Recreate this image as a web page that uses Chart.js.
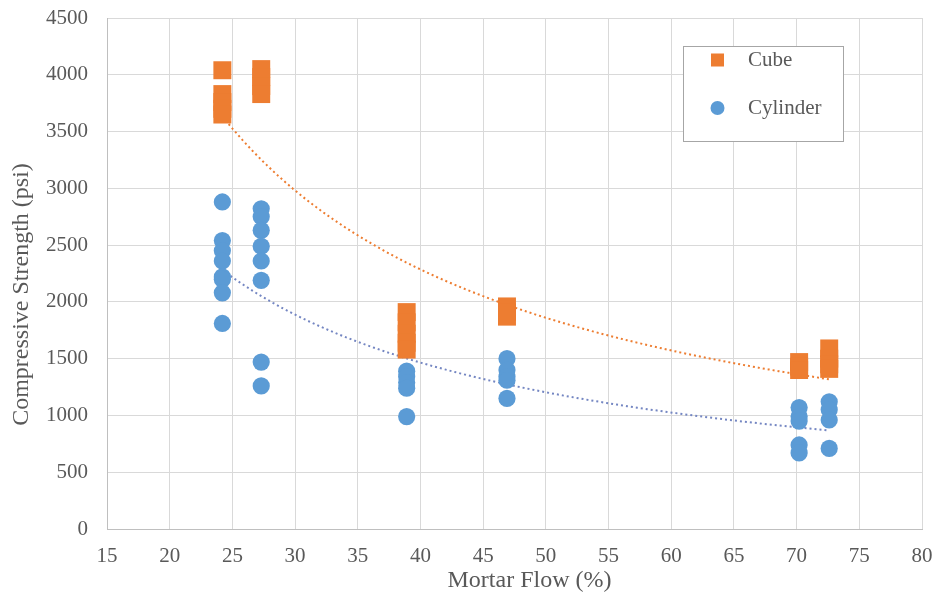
<!DOCTYPE html>
<html>
<head>
<meta charset="utf-8">
<script src="https://cdn.jsdelivr.net/npm/chart.js@4.4.0/dist/chart.umd.min.js"></script>
<style>
  html, body { margin: 0; padding: 0; background: #fff; }
  #wrap { width: 935px; height: 592px; position: relative; }
</style>
</head>
<body>
<div id="wrap"><canvas id="strengthChart"></canvas></div>
<script>
// mortar flow (%) of each batch
var flowLevels = [24.2, 27.3, 38.9, 46.9, 70.2, 72.6];

// cube results (psi), one list per flow level
var cubeStrength = [
  [4040, 3830, 3760, 3700, 3650],
  [4050, 3980, 3900, 3830],
  [1910, 1820, 1720, 1640, 1580],
  [1960, 1910, 1870],
  [1470, 1430, 1400],
  [1590, 1500, 1450, 1410]
];

// cylinder results (psi), one list per flow level
var cylinderStrength = [
  [2880, 2540, 2450, 2360, 2220, 2200, 2080, 1810],
  [2820, 2750, 2630, 2490, 2360, 2190, 1470, 1260],
  [1390, 1340, 1290, 1240, 990],
  [1500, 1400, 1340, 1310, 1150],
  [1070, 990, 950, 740, 670],
  [1120, 1050, 960, 710]
];

var xMin = 15, xMax = 80, xStep = 5;
var yMin = 0, yMax = 4500, yStep = 500;

var seriesNames = ['Cube', 'Cylinder'];
var xTitle = 'Mortar Flow (%)';
var yTitle = 'Compressive Strength (psi)';

var orange = '#ED7D31';
var blue = '#5B9BD5';
var font = '"Liberation Serif", "Times New Roman", serif';

function toPoints(groups) {
  var pts = [];
  groups.forEach(function (vals, i) {
    vals.forEach(function (v) {
      pts.push({ x: flowLevels[i], y: v });
    });
  });
  return pts;
}

// power trendline (y = a * x^b) fitted like Excel does, on log-log values
function powerTrend(pts) {
  var n = pts.length, sx = 0, sy = 0, sxx = 0, sxy = 0;
  pts.forEach(function (p) {
    var lx = Math.log(p.x), ly = Math.log(p.y);
    sx += lx; sy += ly; sxx += lx * lx; sxy += lx * ly;
  });
  var b = (n * sxy - sx * sy) / (n * sxx - sx * sx);
  var a = Math.exp((sy - b * sx) / n);
  var lo = Math.min.apply(null, pts.map(function (p) { return p.x; }));
  var hi = Math.max.apply(null, pts.map(function (p) { return p.x; }));
  var out = [];
  for (var i = 0; i <= 60; i++) {
    var x = lo + (hi - lo) * i / 60;
    out.push({ x: x, y: a * Math.pow(x, b) });
  }
  return out;
}

var cubePts = toPoints(cubeStrength);
var cylPts = toPoints(cylinderStrength);

// axis titles and the boxed legend, placed like the original sheet
var chartDecor = {
  id: 'chartDecor',
  afterDraw: function (chart) {
    var ctx = chart.ctx;
    var area = chart.chartArea;
    ctx.save();
    ctx.fillStyle = '#595959';
    ctx.textBaseline = 'middle';

    ctx.font = '24px ' + font;
    ctx.textAlign = 'center';
    ctx.fillText(xTitle, (area.left + area.right) / 2 + 15, 581);
    ctx.save();
    ctx.translate(22, (area.top + area.bottom) / 2 + 21);
    ctx.rotate(-Math.PI / 2);
    ctx.fillText(yTitle, 0, 0);
    ctx.restore();

    // legend box
    ctx.fillStyle = '#fff';
    ctx.fillRect(683.5, 46.5, 160, 95);
    ctx.strokeStyle = '#a6a6a6';
    ctx.lineWidth = 1;
    ctx.strokeRect(683.5, 46.5, 160, 95);

    ctx.fillStyle = orange;
    ctx.fillRect(711, 53.5, 13, 13);
    ctx.fillStyle = blue;
    ctx.beginPath();
    ctx.arc(717.5, 108, 7, 0, Math.PI * 2);
    ctx.fill();

    ctx.fillStyle = '#595959';
    ctx.font = '21px ' + font;
    ctx.textAlign = 'left';
    ctx.fillText(seriesNames[0], 748, 60);
    ctx.fillText(seriesNames[1], 748, 108);
    ctx.restore();
  }
};

function plainNumber(value) {
  return String(value);
}

var ctx = document.getElementById('strengthChart').getContext('2d');
var strengthChart = new Chart(ctx, {
  type: 'scatter',
  data: {
    datasets: [{
      label: seriesNames[0],
      data: cubePts,
      pointStyle: 'rect',
      pointRadius: 12.7,
      pointBackgroundColor: orange,
      pointBorderWidth: 0,
      order: 1
    }, {
      label: seriesNames[1],
      data: cylPts,
      pointStyle: 'circle',
      pointRadius: 8.6,
      pointBackgroundColor: blue,
      pointBorderWidth: 0,
      order: 1
    }, {
      label: 'Cube trend',
      type: 'line',
      data: powerTrend(cubePts),
      borderColor: orange,
      borderWidth: 2,
      borderDash: [2, 3],
      pointRadius: 0,
      fill: false,
      order: 2
    }, {
      label: 'Cylinder trend',
      type: 'line',
      data: powerTrend(cylPts),
      borderColor: '#7486c2',
      borderWidth: 2,
      borderDash: [2, 3],
      pointRadius: 0,
      fill: false,
      order: 2
    }]
  },
  options: {
    responsive: true,
    maintainAspectRatio: false,
    animation: false,
    layout: { autoPadding: false, padding: { top: 18, right: 13, left: 0, bottom: 0 } },
    plugins: {
      legend: { display: false },
      tooltip: { enabled: false }
    },
    scales: {
      x: {
        type: 'linear',
        min: xMin,
        max: xMax,
        afterFit: function (scale) {
          scale.height = 63;
          scale.paddingLeft = 0;
          scale.paddingRight = 0;
        },
        ticks: {
          stepSize: xStep,
          padding: 15,
          color: '#595959',
          font: { family: font, size: 21 },
          callback: plainNumber
        },
        grid: { color: '#d9d9d9', drawTicks: false },
        border: { color: '#bfbfbf' }
      },
      y: {
        min: yMin,
        max: yMax,
        afterFit: function (scale) {
          scale.width = 107;
          scale.paddingTop = 0;
          scale.paddingBottom = 0;
        },
        ticks: {
          stepSize: yStep,
          padding: 19,
          color: '#595959',
          font: { family: font, size: 21 },
          callback: plainNumber
        },
        grid: { color: '#d9d9d9', drawTicks: false },
        border: { color: '#bfbfbf' }
      }
    }
  },
  plugins: [chartDecor]
});
</script>
</body>
</html>
